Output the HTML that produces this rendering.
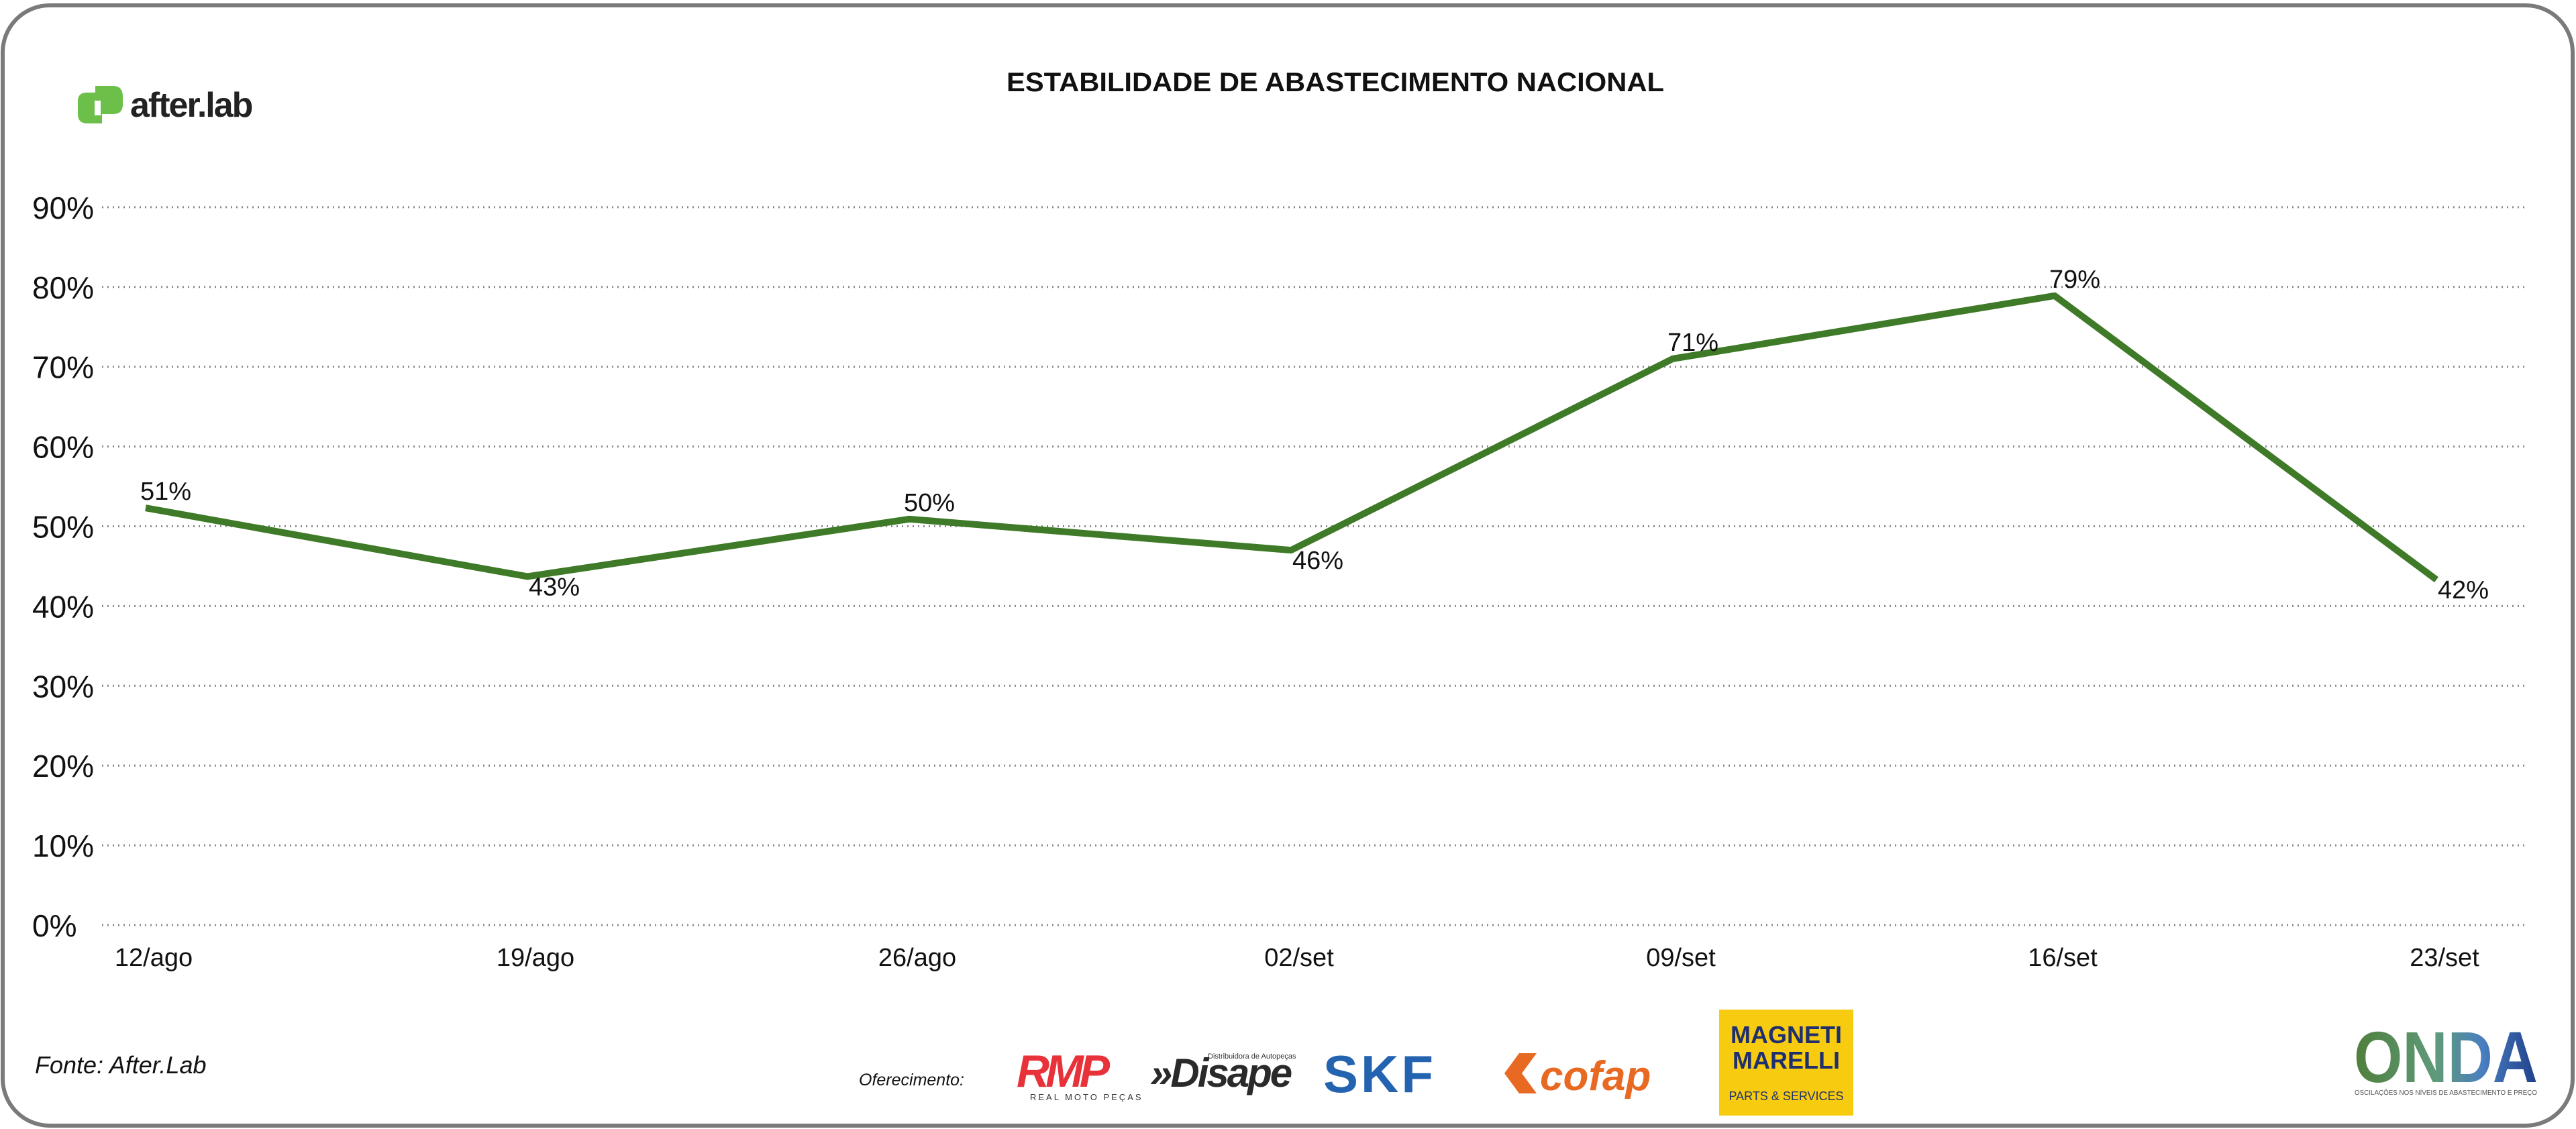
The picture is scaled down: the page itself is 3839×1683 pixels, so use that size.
<!DOCTYPE html>
<html><head><meta charset="utf-8"><style>
html,body{margin:0;padding:0;background:#fff;}
svg{display:block;}
text{font-family:"Liberation Sans",sans-serif;}
</style></head><body>
<svg id="chart" width="3839" height="1683" viewBox="0 0 3839 1683" xmlns="http://www.w3.org/2000/svg">
<defs>
<linearGradient id="ondaG" x1="0" y1="0" x2="1" y2="0">
<stop offset="0" stop-color="#4f7f3c"/><stop offset="0.45" stop-color="#5f9a7a"/><stop offset="0.7" stop-color="#4a7fc0"/><stop offset="1" stop-color="#1f3f8a"/>
</linearGradient>
</defs>
<rect x="4" y="8" width="3830" height="1670" rx="70" ry="70" fill="#fff" stroke="#7a7a7a" stroke-width="6"/>
<g>
<path d="M116,150 q0,-12 14,-12 h22 v46 h-22 q-14,0 -14,-14z" fill="#6cc04a"/>
<path d="M142,128 h26 q15,0 15,16 v12 q0,14 -14,14 h-27z" fill="#6cc04a"/>
<rect x="141" y="150" width="9" height="22" fill="#fff"/>
<text x="194" y="174" font-size="52" font-weight="bold" fill="#222" letter-spacing="-2">after.lab</text>
</g>
<text x="1990" y="136" font-size="40" font-weight="bold" text-anchor="middle" fill="#111" textLength="980" lengthAdjust="spacingAndGlyphs">ESTABILIDADE DE ABASTECIMENTO NACIONAL</text>
<g id="grid"></g>
<g id="yticks"></g>
<g id="xticks"></g>
<g id="series"></g>
<g id="labels"></g>
<text x="52" y="1600" font-size="36" font-style="italic" fill="#111">Fonte: After.Lab</text>
<text x="1280" y="1618" font-size="25" font-style="italic" fill="#111">Oferecimento:</text>
<g>
<text x="1515" y="1620" font-size="68" font-weight="bold" font-style="italic" fill="#e8323a" letter-spacing="-6">RMP</text>
<text x="1535" y="1640" font-size="13" fill="#333" letter-spacing="3">REAL MOTO PEÇAS</text>
</g>
<g>
<text x="1714" y="1620" font-size="60" font-weight="bold" font-style="italic" fill="#2a2a2a" letter-spacing="-3">»Disape</text>
<text x="1800" y="1578" font-size="11" fill="#333">Distribuidora de Autopeças</text>
</g>
<text x="1972" y="1628" font-size="78" font-weight="bold" fill="#2463b0" letter-spacing="4">SKF</text>
<g>
<path d="M2242,1600 l22,-30 h26 l-22,30 l22,30 h-26z" fill="#e86a22"/>
<text x="2295" y="1625" font-size="62" font-weight="bold" font-style="italic" fill="#e86a22">cofap</text>
</g>
<g>
<rect x="2562" y="1505" width="200" height="158" fill="#f7cb10"/>
<text x="2662" y="1555" font-size="36" font-weight="bold" fill="#1f2f6e" text-anchor="middle">MAGNETI</text>
<text x="2662" y="1593" font-size="36" font-weight="bold" fill="#1f2f6e" text-anchor="middle">MARELLI</text>
<text x="2662" y="1640" font-size="18" fill="#1f2f6e" text-anchor="middle">PARTS &amp; SERVICES</text>
</g>
<g>
<text x="3645" y="1613" font-size="108" font-weight="bold" fill="url(#ondaG)" text-anchor="middle" textLength="274" lengthAdjust="spacingAndGlyphs">ONDA</text>
<text x="3645" y="1632" font-size="10" fill="#555" text-anchor="middle" textLength="272" lengthAdjust="spacingAndGlyphs">OSCILAÇÕES NOS NÍVEIS DE ABASTECIMENTO E PREÇO</text>
</g>
</svg>
<script>
const categories = ["12/ago","19/ago","26/ago","02/set","09/set","16/set","23/set"];
const values = [52.3, 43.7, 50.9, 47.0, 71.0, 78.9, 43.3];
const valueLabels = ["51%","43%","50%","46%","71%","79%","42%"];
const yTicks = [0,10,20,30,40,50,60,70,80,90];

const NS = "http://www.w3.org/2000/svg";
const y0 = 1379, yPer10 = 118.9, gx0 = 152, gx1 = 3765, px0 = 217, pStep = 569;
function yScale(v){ return y0 - v/10*yPer10; }
function xScale(i){ return px0 + i*pStep; }
function mk(tag, attrs, parent){ const e=document.createElementNS(NS,tag); for(const k in attrs) e.setAttribute(k,attrs[k]); parent.appendChild(e); return e; }

const grid = document.getElementById('grid');
const yt = document.getElementById('yticks');
yTicks.forEach(t=>{
  const l = mk('line',{x1:gx0,x2:gx1,y1:yScale(t),y2:yScale(t),stroke:'#888','stroke-width':3,'stroke-dasharray':'2 6'},grid);
  
  
  const tx = mk('text',{x:48,y:yScale(t)+17,'font-size':46,fill:'#111'},yt);
  tx.textContent = t+'%';
  
  
});
const xt = document.getElementById('xticks');
categories.forEach((c,i)=>{
  const tx = mk('text',{x:xScale(i)+12,y:1440,'font-size':38,fill:'#111','text-anchor':'middle'},xt);
  tx.textContent = c;
  
  
});
const pts = values.map((v,i)=>xScale(i)+','+yScale(v)).join(' ');
const line = mk('polyline',{points:pts,fill:'none',stroke:'#3e7a27','stroke-width':10,'stroke-linejoin':'round'},document.getElementById('series'));


const lbl = document.getElementById('labels');
const below = [false,true,false,true,false,false,true];
values.forEach((v,i)=>{
  const tx = mk('text',{x:xScale(i)+(below[i]?40:30),y:yScale(v)+(below[i]?28:-12),'font-size':38,fill:'#111','text-anchor':'middle'},lbl);
  tx.textContent = valueLabels[i];
  
  
});
</script>
</body></html>
